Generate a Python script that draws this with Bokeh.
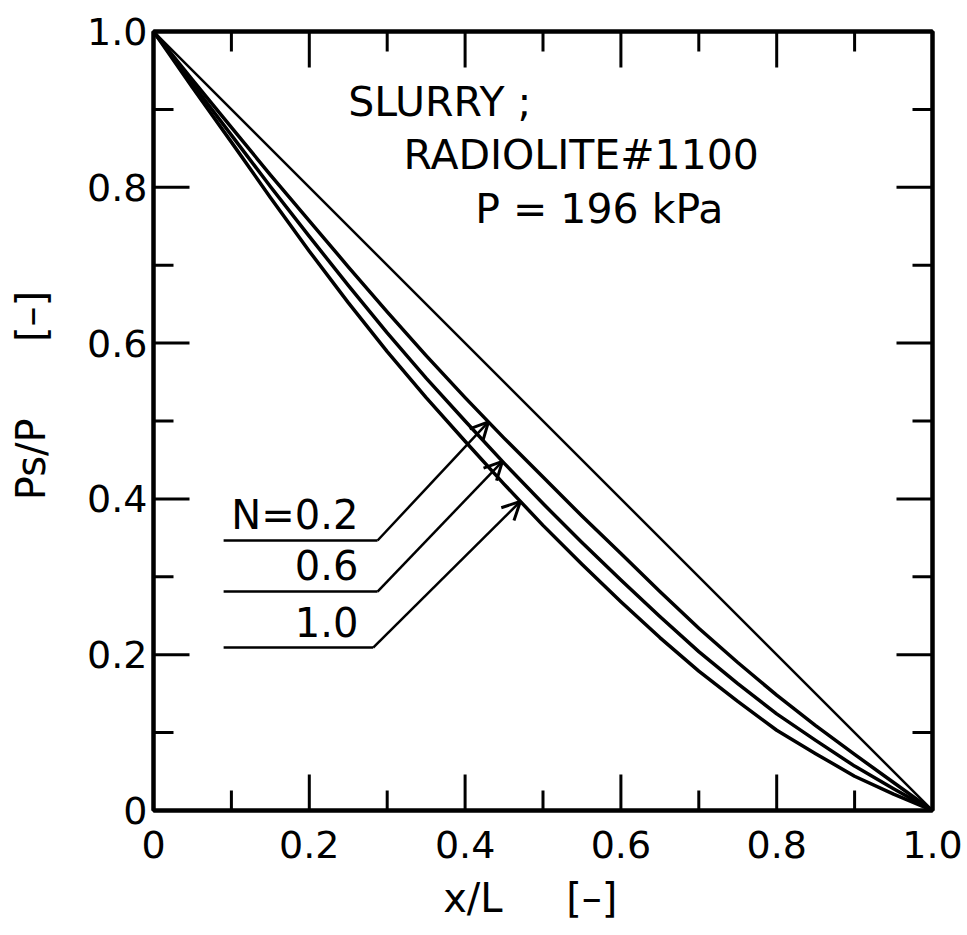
import numpy as np
from bokeh.plotting import figure
from bokeh.models import Range1d, FixedTicker, LinearAxis, Label, Arrow, OpenHead
from bokeh.embed import file_html
from bokeh.resources import INLINE

# Dimensionless position along the cake, x/L
x_L = [0.00, 0.05, 0.10, 0.15, 0.20, 0.25, 0.30, 0.35, 0.40, 0.45, 0.50,
       0.55, 0.60, 0.65, 0.70, 0.75, 0.80, 0.85, 0.90, 0.95, 1.00]

# Solid compressive pressure ratio Ps/P for each compressibility index N
ps_n02 = [1.000, 0.938, 0.877, 0.816, 0.757, 0.698, 0.640, 0.584, 0.530, 0.478, 0.428,
          0.378, 0.330, 0.281, 0.234, 0.190, 0.148, 0.109, 0.072, 0.036, 0.000]
ps_n06 = [1.000, 0.933, 0.867, 0.801, 0.737, 0.674, 0.613, 0.555, 0.500, 0.446, 0.394,
          0.344, 0.296, 0.249, 0.204, 0.163, 0.124, 0.090, 0.057, 0.028, 0.000]
ps_n10 = [1.000, 0.928, 0.858, 0.787, 0.718, 0.652, 0.589, 0.530, 0.474, 0.419, 0.366,
          0.316, 0.268, 0.222, 0.179, 0.140, 0.103, 0.073, 0.044, 0.021, 0.000]

# Incompressible (linear) reference line
linear_x = [0.0, 1.0]
linear_ps = [1.0, 0.0]

series_labels = ["N=0.2", "0.6", "1.0"]
series_values = [ps_n02, ps_n06, ps_n10]

major_ticks = [0.0, 0.2, 0.4, 0.6, 0.8, 1.0]
minor_ticks = [0.1, 0.3, 0.5, 0.7, 0.9]
tick_labels = ["0", "0.2", "0.4", "0.6", "0.8", "1.0"]

FONT = "DejaVu Sans"
NB = "\u00a0"
FRAME = 779
MAJOR_LEN = 36 / FRAME   # inward tick length in data units
MINOR_LEN = 20 / FRAME

p = figure(frame_width=FRAME, frame_height=FRAME,
           x_range=Range1d(0, 1), y_range=Range1d(0, 1),
           output_backend="svg", toolbar_location=None,
           min_border_left=153, min_border_right=35,
           min_border_top=31, min_border_bottom=125,
           background_fill_color="white", border_fill_color="white")
p.grid.visible = False
p.outline_line_color = "black"
p.outline_line_width = 4

overrides = {t: s for t, s in zip(major_ticks, tick_labels)}


def style_axis(ax, show_labels):
    ax.ticker = FixedTicker(ticks=major_ticks, minor_ticks=minor_ticks)
    ax.axis_line_color = "black"
    ax.axis_line_width = 4
    ax.major_tick_in = 0
    ax.major_tick_out = 0
    ax.minor_tick_in = 0
    ax.minor_tick_out = 0
    if show_labels:
        ax.major_label_overrides = overrides
        ax.major_label_text_font = FONT
        ax.major_label_text_font_size = "38px"
        ax.major_label_text_color = "black"
    else:
        ax.major_label_text_font_size = "0px"
        ax.major_label_text_alpha = 0


for ax in p.xaxis:
    style_axis(ax, True)
    ax.major_label_standoff = 20
    ax.axis_label = "x/L" + NB * 5 + "[–]" + NB * 2
    ax.axis_label_text_font = FONT
    ax.axis_label_text_font_size = "40px"
    ax.axis_label_text_font_style = "normal"
    ax.axis_label_text_color = "black"
    ax.axis_label_standoff = 14

for ax in p.yaxis:
    style_axis(ax, True)
    ax.major_label_standoff = 6
    ax.axis_label = NB * 4 + "Ps/P" + NB * 6 + "[–]"
    ax.axis_label_text_font = FONT
    ax.axis_label_text_font_size = "40px"
    ax.axis_label_text_font_style = "normal"
    ax.axis_label_text_color = "black"
    ax.axis_label_standoff = 30

top_axis = LinearAxis()
style_axis(top_axis, False)
p.add_layout(top_axis, "above")
right_axis = LinearAxis()
style_axis(right_axis, False)
p.add_layout(right_axis, "right")

# Inward tick marks on all four sides
for ticks, length in [(major_ticks, MAJOR_LEN), (minor_ticks, MINOR_LEN)]:
    t = np.array(ticks)
    z = np.zeros_like(t)
    o = np.ones_like(t)
    p.segment(t, z, t, z + length, line_color="black", line_width=3)      # bottom
    p.segment(t, o, t, o - length, line_color="black", line_width=3)      # top
    p.segment(z, t, z + length, t, line_color="black", line_width=3)      # left
    p.segment(o, t, o - length, t, line_color="black", line_width=3)      # right

# Curves
p.line(linear_x, linear_ps, line_color="black", line_width=2.5)
for vals in series_values:
    p.line(x_L, vals, line_color="black", line_width=3.5, line_join="round")

# Leader lines: horizontal underline, then arrow to the curve
label_right = 0.263
underline_left = 0.090
corner_x = [0.2876, 0.2876, 0.282]
corner_y = [0.3466, 0.2811, 0.2092]
label_base = [0.379, 0.315, 0.242]
tip_x = [0.430, 0.448, 0.471]

for lab, vals, cx, cy, by, tx in zip(series_labels, series_values,
                                     corner_x, corner_y, label_base, tip_x):
    ty = float(np.interp(tx, x_L, vals))
    p.line([underline_left, cx], [cy, cy], line_color="black", line_width=2.5)
    p.add_layout(Arrow(x_start=cx, y_start=cy, x_end=tx, y_end=ty,
                       line_color="black", line_width=2.5,
                       end=OpenHead(size=18, line_width=3, line_color="black")))
    p.add_layout(Label(x=label_right, y=by, text=lab, text_align="right",
                       text_baseline="alphabetic", text_font=FONT,
                       text_font_size="40px", text_color="black"))

# Header text
for txt, tx, ty in [("SLURRY ;", 0.250, 0.910),
                    ("RADIOLITE#1100", 0.321, 0.842),
                    ("P = 196 kPa", 0.413, 0.772)]:
    p.add_layout(Label(x=tx, y=ty, text=txt, text_baseline="alphabetic",
                       text_font=FONT, text_font_size="41px", text_color="black"))

open("out.html", "w").write(file_html(p, INLINE))
